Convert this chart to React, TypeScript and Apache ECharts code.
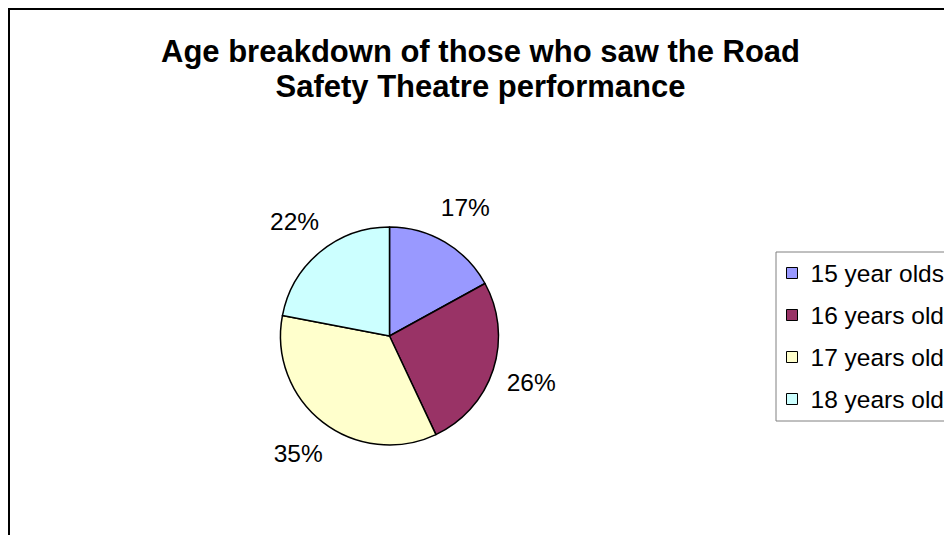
import React, { useEffect, useRef } from "react";
import * as echarts from "echarts";

const titleLines = ["Age breakdown of those who saw the Road", "Safety Theatre performance"];
const categories = ["15 year olds", "16 years old", "17 years old", "18 years old"];
const values = [17, 26, 35, 22];
const colors = ["#9999FF", "#993366", "#FFFFCC", "#CCFFFF"];

const FONT = "'Liberation Sans', Arial, Helvetica, sans-serif";

export default function App() {
  const ref = useRef<HTMLDivElement>(null);
  useEffect(() => {
    if (!ref.current) return;
    const chart = echarts.init(ref.current, null, { renderer: "svg" });
    const data = categories.map((name, i) => ({
      name,
      value: values[i],
      itemStyle: { color: colors[i] },
    }));
    const labelData = categories.map((name, i) => ({ name, value: values[i] }));
    chart.setOption({
      animation: false,
      backgroundColor: "#ffffff",
      textStyle: { fontFamily: FONT },
      legend: {
        orient: "vertical",
        left: 768,
        top: 244,
        data: categories,
        icon: "rect",
        itemWidth: 11,
        itemHeight: 11,
        itemGap: 14,
        padding: [7, 60, 8, 10],
        borderColor: "#808080",
        borderWidth: 1,
        backgroundColor: "#ffffff",
        selectedMode: false,
        itemStyle: { borderColor: "#000", borderWidth: 1 },
        textStyle: {
          fontFamily: FONT,
          fontSize: 24.5,
          color: "#000",
          lineHeight: 28,
          padding: [0, 0, 0, 8],
        },
      },
      graphic: [
        {
          type: "text",
          x: 472.5,
          y: 26,
          silent: true,
          style: {
            text: titleLines.join("\n"),
            textAlign: "center",
            textVerticalAlign: "top",
            fontFamily: FONT,
            fontSize: 31,
            fontWeight: "bold",
            lineHeight: 35,
            fill: "#000",
          },
        },
        {
          type: "rect",
          shape: { x: 1, y: 1, width: 3000, height: 3000 },
          style: { fill: "none", stroke: "#000", lineWidth: 2 },
          silent: true,
          z: 100,
        },
      ],
      series: [
        {
          type: "pie",
          center: [381.5, 328],
          radius: [0, 109],
          startAngle: 90,
          clockwise: true,
          avoidLabelOverlap: false,
          silent: true,
          data,
          itemStyle: { borderColor: "#000", borderWidth: 1.5 },
          label: { show: false },
          labelLine: { show: false },
          emphasis: { disabled: true },
        },
        {
          type: "pie",
          center: [381.5, 328],
          radius: [139, 153],
          startAngle: 90,
          clockwise: true,
          avoidLabelOverlap: false,
          silent: true,
          data: labelData,
          itemStyle: { color: "rgba(0,0,0,0)", borderWidth: 0 },
          label: {
            show: true,
            position: "inside",
            formatter: (p: any) => Math.round(p.percent) + "%",
            fontFamily: FONT,
            fontSize: 24.5,
            color: "#000",
            textBorderWidth: 0,
          },
          labelLine: { show: false },
          emphasis: { disabled: true },
        },
      ],
    });
    return () => chart.dispose();
  }, []);
  return <div ref={ref} style={{ width: 944, height: 527 }} />;
}
